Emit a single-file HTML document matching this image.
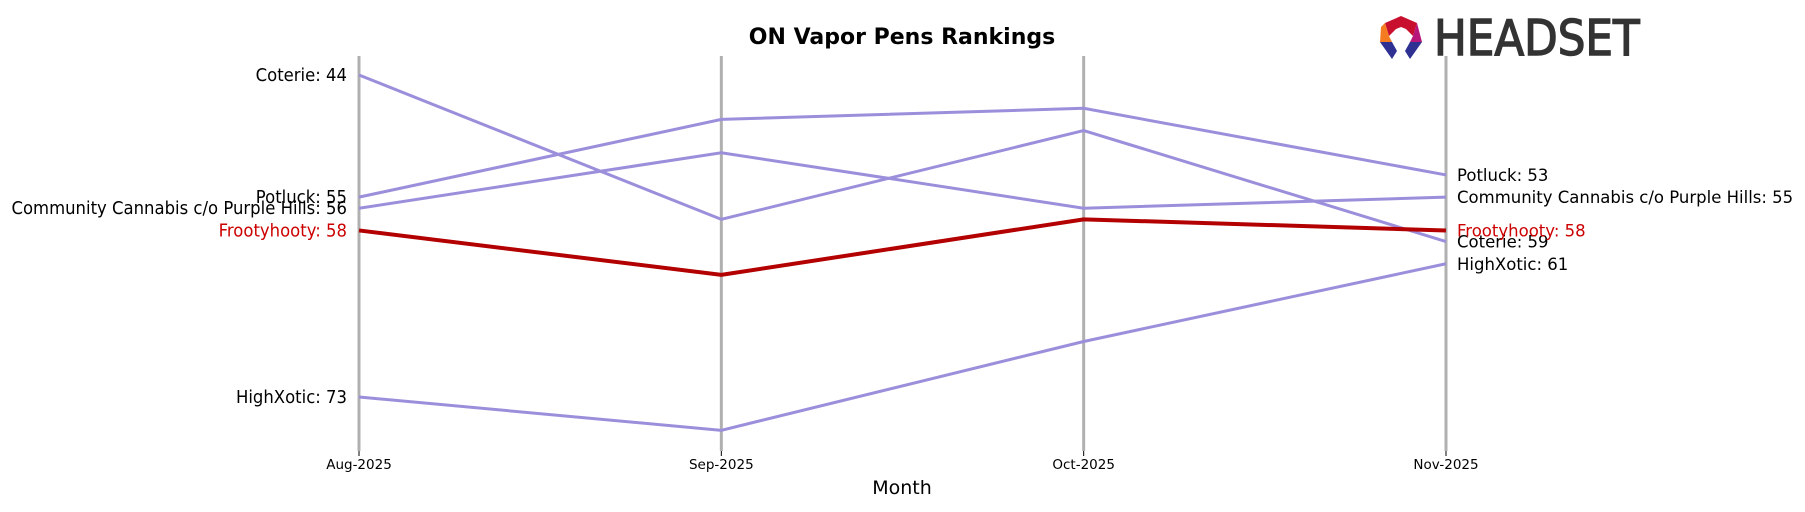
<!DOCTYPE html>
<html><head><meta charset="utf-8"><style>
body{margin:0;background:#fff;}
svg text{font-family:"DejaVu Sans","Liberation Sans",sans-serif;}
</style></head><body>
<svg id="chart" width="1805" height="507" viewBox="0 0 1805 507" xmlns="http://www.w3.org/2000/svg">
<text x="902" y="44" text-anchor="middle" font-size="22" font-weight="bold">ON Vapor Pens Rankings</text>
<text x="902" y="494" text-anchor="middle" font-size="19">Month</text>
<g>
<polygon points="1401,16 1417,23 1413,36 1406,29 1401,27 1396,29 1389,36 1385,23" fill="#c8102e"/>
<polygon points="1385,23 1389,36 1392,42 1380,42 1381,27" fill="#f47b20"/>
<polygon points="1417,23 1422,42 1410,42 1413,36" fill="#b5177a"/>
<polygon points="1380,42 1392,42 1397,51 1392,59" fill="#2e3192"/>
<polygon points="1410,42 1422,42 1410,59 1405,51" fill="#2e3192"/>
<text x="0" y="0" transform="translate(1434,55) scale(0.89,1)" font-family="Liberation Sans,sans-serif" font-size="49" fill="#333" stroke="#333" stroke-width="1.5">HEADSET</text>
</g>
<g id="axes"></g><g id="lines"></g><g id="labels"></g>
</svg>
<script>
const months=["Aug-2025","Sep-2025","Oct-2025","Nov-2025"];
const coterie=[44,57,49,59];
const potluck=[55,48,47,53];
const community=[56,51,56,55];
const frootyhooty=[58,62,57,58];
const highxotic=[73,76,68,61];
const names=["Coterie","Potluck","Community Cannabis c/o Purple Hills","Frootyhooty","HighXotic"];
const seriesList=[coterie,potluck,community,frootyhooty,highxotic];
const NS="http://www.w3.org/2000/svg";
const xPos=i=>359+i*(1446-359)/(months.length-1);
const yPos=r=>75+(r-44)*(397-75)/29;
function mk(tag,attrs,parent){const e=document.createElementNS(NS,tag);for(const k in attrs)e.setAttribute(k,attrs[k]);parent.appendChild(e);return e;}
const ax=document.getElementById('axes'),ln=document.getElementById('lines'),lb=document.getElementById('labels');
months.forEach((m,i)=>{
 const x=xPos(i);
 const l=mk('line',{x1:x,y1:56,x2:x,y2:451,stroke:'#b0b0b0','stroke-width':3},ax);
 
 
 const t=mk('line',{x1:x,y1:451,x2:x,y2:456,stroke:'#000','stroke-width':1},ax);
 
 
 const tx=mk('text',{x:x,y:469,'text-anchor':'middle','font-size':13.5},ax);
 tx.textContent=m;
 
 
});
const order=[0,1,2,4,3];
order.forEach(si=>{
 const s=seriesList[si];const hi=si===3;
 const col=hi?'#b30000':'#9b8fdc';
 const p=mk('polyline',{points:s.map((v,i)=>xPos(i)+','+yPos(v)).join(' '),fill:'none',stroke:col,'stroke-width':hi?4:3},ln);
 
 
 const tc=hi?'#cc0000':'#000';
 const a=mk('text',{x:0,y:0,transform:'translate('+(xPos(0)-12)+','+(yPos(s[0])+6)+') scale(0.915,1)','text-anchor':'end','font-size':18,fill:tc},lb);
 a.textContent=names[si]+': '+s[0];
 
 
 const n=s.length-1;
 const b=mk('text',{x:xPos(n)+11,y:yPos(s[n])+6,'font-size':16.5,fill:tc},lb);
 b.textContent=names[si]+': '+s[n];
 
 
});
</script>
</body></html>
